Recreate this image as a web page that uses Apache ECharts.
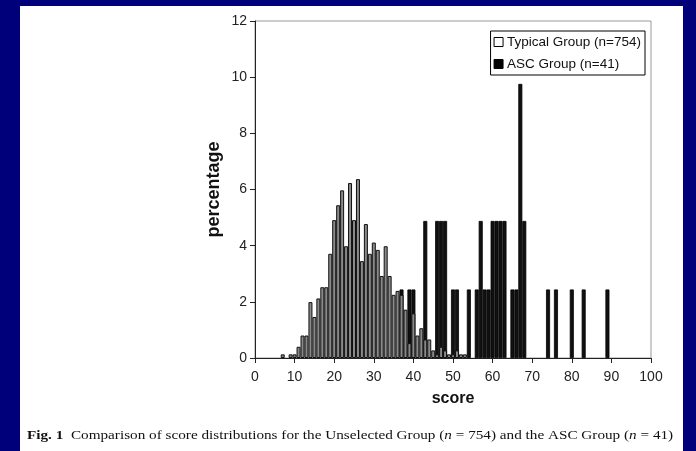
<!DOCTYPE html>
<html>
<head>
<meta charset="utf-8">
<script src="https://cdn.jsdelivr.net/npm/echarts@6/dist/echarts.min.js"></script>
<style>
html,body{margin:0;padding:0;background:#00007b;}
#panel{position:absolute;left:20px;top:6px;width:663px;height:445px;background:#fff;}
#chart{position:absolute;left:0;top:0;width:696px;height:451px;}
</style>
</head>
<body>
<div id="panel"></div>
<div id="chart"></div>
<script>
// Typical group (n=754): score -> percentage
const typicalScores = [7,9,10,11,12,13,14,15,16,17,18,19,20,21,22,23,24,25,26,27,28,29,30,31,32,33,34,35,36,37,38,39,40,41,42,43,44,45,46,47,48,49,50,51,52,53];
const typicalValues = [0.13,0.13,0.13,0.40,0.80,0.80,1.99,1.46,2.12,2.52,2.52,3.71,4.91,5.44,5.97,3.98,6.23,4.91,6.37,3.45,4.77,3.71,4.11,3.85,2.92,3.98,2.92,2.25,2.39,2.25,1.72,0.53,1.59,0.80,1.06,0.66,0.66,0.27,0.13,0.40,0.27,0.13,0.13,0.27,0.13,0.13];
// ASC group (n=41): score -> percentage
const ascScores = [37,39,40,43,46,47,48,50,51,54,56,57,58,59,60,61,62,63,65,66,67,68,74,76,80,83,89];
const ascValues = [2.44,2.44,2.44,4.88,4.88,4.88,4.88,2.44,2.44,2.44,2.44,4.88,2.44,2.44,4.88,4.88,4.88,4.88,2.44,2.44,9.76,4.88,2.44,2.44,2.44,2.44,2.44];
const seriesNames = ['Typical Group (n=754)', 'ASC Group (n=41)'];
const xAxisName = 'score';
const yAxisName = 'percentage';

const chart = echarts.init(document.getElementById('chart'), null, {renderer: 'canvas'});
const font = 'Liberation Sans, Arial, sans-serif';
chart.setOption({
  animation: false,
  backgroundColor: 'transparent',
  grid: {left: 255, right: 45, top: 21, bottom: 93, show: true, borderColor: '#999', borderWidth: 1},
  legend: {
    data: [
      {name: seriesNames[0], itemStyle: {color: '#fff', borderColor: '#000', borderWidth: 1}},
      {name: seriesNames[1], itemStyle: {color: '#000', borderColor: '#000', borderWidth: 1}}
    ],
    orient: 'vertical', right: 51, top: 31,
    itemWidth: 9, itemHeight: 9, itemGap: 8,
    icon: 'rect',
    borderColor: '#000', borderWidth: 1, padding: [4, 4, 4, 3],
    textStyle: {fontFamily: font, fontSize: 13.5, color: '#111', padding: [0, 0, 0, -1]}
  },
  xAxis: {
    type: 'value', min: 0, max: 100, interval: 10,
    name: xAxisName, nameLocation: 'middle', nameGap: 33,
    nameTextStyle: {fontFamily: font, fontSize: 16, fontWeight: 'bold', color: '#111'},
    axisLine: {show: true, lineStyle: {color: '#222', width: 1}},
    axisTick: {show: true, length: 5, lineStyle: {color: '#222'}},
    axisLabel: {fontFamily: font, fontSize: 14, color: '#222', margin: 12},
    splitLine: {show: false}
  },
  yAxis: {
    type: 'value', min: 0, max: 12, interval: 2,
    name: yAxisName, nameLocation: 'middle', nameGap: 32, nameMoveOverlap: false,
    nameTextStyle: {fontFamily: font, fontSize: 18, fontWeight: 'bold', color: '#111'},
    axisLine: {show: true, lineStyle: {color: '#222', width: 1}},
    axisTick: {show: true, length: 5, lineStyle: {color: '#222'}},
    axisLabel: {fontFamily: font, fontSize: 14, color: '#222', margin: 8},
    splitLine: {show: false}
  },
  series: [
    {
      name: seriesNames[1], type: 'bar', barWidth: 4, barGap: '-100%',
      itemStyle: {color: '#111', borderColor: '#000', borderWidth: 0.8},
      data: ascScores.map((s, i) => [s, ascValues[i]])
    },
    {
      name: seriesNames[0], type: 'bar', barWidth: 4, barGap: '-100%',
      itemStyle: {color: '#8a8a8a', borderColor: '#111', borderWidth: 1},
      data: typicalScores.map((s, i) => [s, typicalValues[i]])
    }
  ],
  graphic: [{
    type: 'text', left: 27, top: 429, scaleX: 1.17, originX: 0,
    style: {
      text: '{b|Fig. 1}  Comparison of score distributions for the Unselected Group ({i|n} = 754) and the ASC Group ({i|n} = 41)',
      font: '13px "Liberation Serif", "Times New Roman", serif',
      fill: '#111',
      rich: {
        b: {fontWeight: 'bold', fontFamily: 'Liberation Serif', fontSize: 13, fill: '#111'},
        i: {fontStyle: 'italic', fontFamily: 'Liberation Serif', fontSize: 13, fill: '#111'}
      }
    }
  }]
});
</script>
</body>
</html>
